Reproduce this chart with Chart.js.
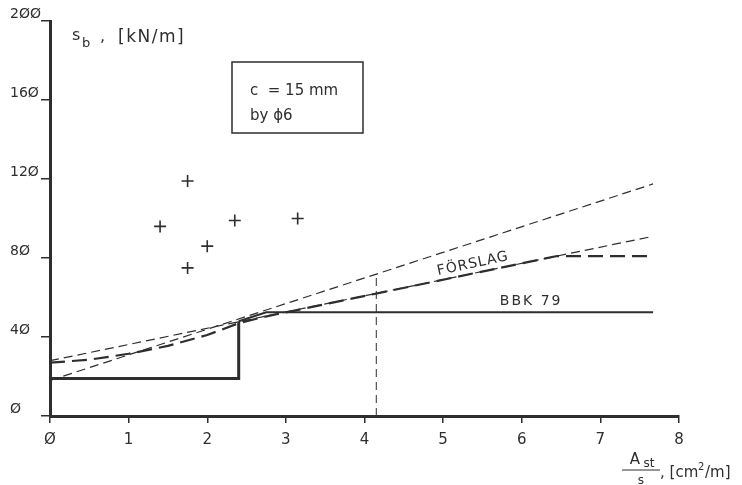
<!DOCTYPE html>
<html>
<head>
<meta charset="utf-8">
<script src="https://cdn.jsdelivr.net/npm/chart.js@4/dist/chart.umd.min.js"></script>
<style>
  html, body { margin: 0; padding: 0; background: #fff; }
  #wrap { width: 742px; height: 485px; position: relative; }
</style>
</head>
<body>
<div id="wrap"><canvas id="c"></canvas></div>
<script>
const xTicks = [0, 1, 2, 3, 4, 5, 6, 7, 8]
const yTicks = [0, 40, 80, 120, 160, 200]

// test results (crosses)
const testX = [1.4, 1.75, 1.75, 2.0, 2.35, 3.15]
const testY = [96, 119, 75, 86, 99, 100]

// BBK 79 curve
const bbkStepX = [0, 2.4, 2.4]
const bbkStepY = [19, 19, 48]
const bbkTopX = [2.4, 2.75, 7.67]
const bbkTopY = [48, 52.5, 52.5]

// FÖRSLAG curve
const forslagX = [0, 0.5, 1, 1.5, 2, 2.4, 2.7, 6.45, 7.67]
const forslagY = [27, 28.5, 31.5, 35.5, 41, 47, 50, 81, 81]

// thin dashed lines
const upperX = [0, 7.67]
const upperY = [18, 117.5]
const lowerX = [0, 7.67]
const lowerY = [28, 91]
const vertX = [4.15, 4.15]
const vertY = [0, 72]

const ink = '#2e2e2e'
const font = "'DejaVu Sans', sans-serif"

function pts (xs, ys) {
  return xs.map((x, i) => ({ x: x, y: ys[i] }))
}

function line (data, width, dash) {
  return {
    data: data,
    showLine: true,
    borderColor: ink,
    borderWidth: width,
    borderDash: dash,
    pointRadius: 0,
    fill: false
  }
}

const zero = v => String(v).replace(/0/g, 'Ø')

const extras = {
  id: 'extras',
  afterDraw (chart) {
    const ctx = chart.ctx
    const xs = chart.scales.x
    const ys = chart.scales.y
    ctx.save()
    ctx.fillStyle = ink
    ctx.strokeStyle = ink

    // y axis title
    ctx.textBaseline = 'alphabetic'
    ctx.textAlign = 'left'
    ctx.font = '16px ' + font
    ctx.fillText('s', 72, 40)
    ctx.font = '13px ' + font
    ctx.fillText('b', 82, 47)
    ctx.font = '16px ' + font
    ctx.fillText(',', 100, 41)
    ctx.font = '17px ' + font
    ctx.letterSpacing = '1.5px'
    ctx.fillText('[kN/m]', 118, 42)
    ctx.letterSpacing = '0px'

    // box
    ctx.lineWidth = 1.5
    ctx.strokeRect(232, 62, 131, 71)
    ctx.font = '15px ' + font
    ctx.fillText('c  = 15 mm', 250, 95)
    ctx.fillText('by ϕ6', 250, 120)

    // curve labels
    ctx.save()
    ctx.translate(xs.getPixelForValue(5.38), ys.getPixelForValue(77))
    ctx.rotate(-0.21)
    ctx.font = '14px ' + font
    ctx.textAlign = 'center'
    ctx.textBaseline = 'middle'
    ctx.letterSpacing = '1px'
    ctx.fillText('FÖRSLAG', 0, 0)
    ctx.restore()
    ctx.font = '14px ' + font
    ctx.textAlign = 'center'
    ctx.textBaseline = 'middle'
    ctx.letterSpacing = '2px'
    ctx.fillText('BBK 79', xs.getPixelForValue(6.12), ys.getPixelForValue(58))
    ctx.letterSpacing = '0px'
    ctx.textBaseline = 'alphabetic'

    // x axis title
    ctx.textAlign = 'center'
    ctx.font = '15px ' + font
    ctx.fillText('A', 635, 464)
    ctx.font = '12px ' + font
    ctx.fillText('st', 649, 467)
    ctx.lineWidth = 1
    ctx.beginPath()
    ctx.moveTo(622, 470)
    ctx.lineTo(660, 470)
    ctx.stroke()
    ctx.font = '12px ' + font
    ctx.fillText('s', 641, 484)
    ctx.textAlign = 'left'
    ctx.font = '15px ' + font
    ctx.fillText(', [cm', 660, 477)
    ctx.font = '10px ' + font
    ctx.fillText('2', 698, 470)
    ctx.font = '15px ' + font
    ctx.fillText('/m]', 705, 477)
    ctx.restore()
  }
}

new Chart(document.getElementById('c'), {
  type: 'scatter',
  data: {
    datasets: [
      {
        data: pts(testX, testY),
        pointStyle: 'cross',
        pointRadius: 6,
        borderWidth: 1.6,
        borderColor: ink,
        backgroundColor: ink
      },
      line(pts(bbkStepX, bbkStepY), 3, []),
      line(pts(bbkTopX, bbkTopY), 2, []),
      line(pts(forslagX, forslagY), 2.2, [15, 7]),
      line(pts(upperX, upperY), 1.2, [9, 5]),
      line(pts(lowerX, lowerY), 1.2, [9, 5]),
      line(pts(vertX, vertY), 1, [8, 5])
    ]
  },
  options: {
    responsive: true,
    maintainAspectRatio: false,
    animation: false,
    layout: { padding: { left: 10, right: 63, top: 21, bottom: 0 } },
    plugins: {
      legend: { display: false },
      tooltip: { enabled: false }
    },
    scales: {
      x: {
        type: 'linear',
        min: 0,
        max: 8,
        afterBuildTicks: s => { s.ticks = xTicks.map(v => ({ value: v })) },
        afterFit: s => { s.height = 69 },
        border: { display: true, color: ink, width: 3 },
        grid: { drawOnChartArea: false, drawTicks: true, tickLength: 7, color: ink, lineWidth: 1.5 },
        ticks: { color: ink, font: { family: font, size: 15 }, padding: 8, callback: v => zero(v) }
      },
      y: {
        type: 'linear',
        min: 0,
        max: 200,
        afterBuildTicks: s => { s.ticks = yTicks.map(v => ({ value: v })) },
        afterFit: s => { s.width = 40 },
        border: { display: true, color: ink, width: 3 },
        grid: { drawOnChartArea: false, drawTicks: true, tickLength: 9, color: ink, lineWidth: 1.5 },
        ticks: {
          color: ink,
          font: { family: font, size: 14, lineHeight: 1 },
          padding: 0,
          crossAlign: 'far',
          // second empty line lifts the label so it sits on its tick
          callback: v => [zero(v), '']
        }
      }
    }
  },
  plugins: [extras]
})
</script>
</body>
</html>
